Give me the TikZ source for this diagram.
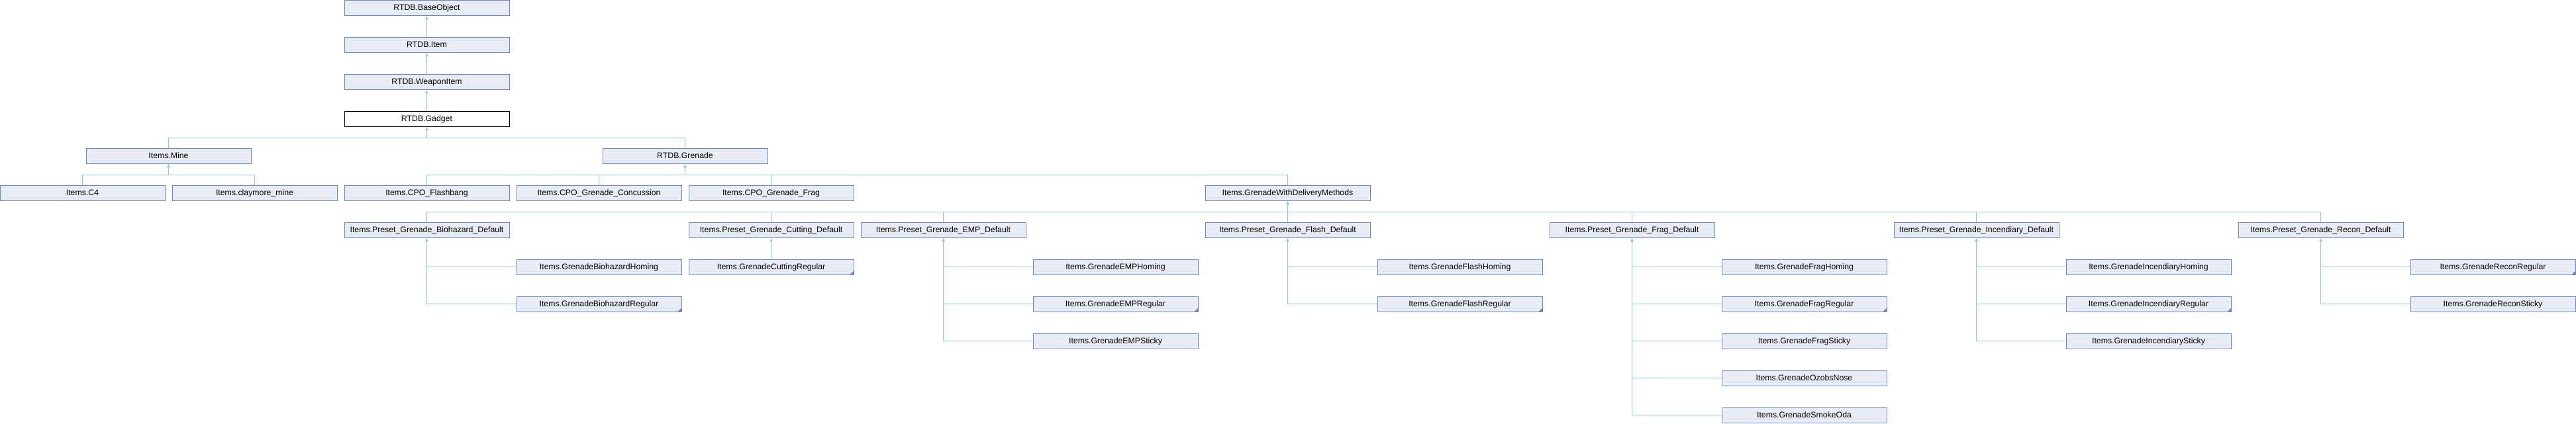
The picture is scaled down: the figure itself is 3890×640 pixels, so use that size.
\documentclass[tikz,border=0pt]{standalone}
\usepackage{fontspec}
\setmainfont{Liberation Sans}
\usetikzlibrary{arrows.meta}
\definecolor{edgec}{RGB}{140,198,232}
\definecolor{boxfill}{RGB}{232,236,245}
\definecolor{boxdraw}{RGB}{110,135,196}
\newcommand{\mybox}[5][]{\node[box,#1] (#2) at ({260*(#3)+124.5},{56*(#4)+11.75}) {#5};}
\begin{document}
\begin{tikzpicture}[x=1pt,y=-1pt,
  box/.style={draw=boxdraw,fill=boxfill,line width=1pt,minimum width=249pt,minimum height=23.5pt,
    inner sep=0pt,text height=8.8pt,text depth=1pt,font=\fontsize{12.3pt}{14pt}\selectfont},
  trunc/.style={path picture={\fill[boxdraw] (path picture bounding box.south east) -- ++(-6,0) -- ++(6,-6) -- cycle;}},
  conn/.style={draw=edgec,line width=1pt,{Latex[length=5pt,width=4.5pt]}-}]
\useasboundingbox (0,0) rectangle (3890,640);
% row 0-3
\mybox{base}{2}{0}{RTDB.BaseObject}
\mybox{item}{2}{1}{RTDB.Item}
\mybox{weapon}{2}{2}{RTDB.WeaponItem}
\mybox[fill=white,draw=black]{gadget}{2}{3}{RTDB.Gadget}
% row 4
\mybox{mine}{0.5}{4}{Items.Mine}
\mybox{grenade}{3.5}{4}{RTDB.Grenade}
% row 5
\mybox{c4}{0}{5}{Items.C4}
\mybox{clay}{1}{5}{Items.claymore\_mine}
\mybox{flashbang}{2}{5}{Items.CPO\_Flashbang}
\mybox{concussion}{3}{5}{Items.CPO\_Grenade\_Concussion}
\mybox{cpofrag}{4}{5}{Items.CPO\_Grenade\_Frag}
\mybox{gwdm}{7}{5}{Items.GrenadeWithDeliveryMethods}
% row 6
\mybox{pbio}{2}{6}{Items.Preset\_Grenade\_Biohazard\_Default}
\mybox{pcut}{4}{6}{Items.Preset\_Grenade\_Cutting\_Default}
\mybox{pemp}{5}{6}{Items.Preset\_Grenade\_EMP\_Default}
\mybox{pflash}{7}{6}{Items.Preset\_Grenade\_Flash\_Default}
\mybox{pfrag}{9}{6}{Items.Preset\_Grenade\_Frag\_Default}
\mybox{pinc}{11}{6}{Items.Preset\_Grenade\_Incendiary\_Default}
\mybox{precon}{13}{6}{Items.Preset\_Grenade\_Recon\_Default}
% row 7
\mybox{biohom}{3}{7}{Items.GrenadeBiohazardHoming}
\mybox[trunc]{cutreg}{4}{7}{Items.GrenadeCuttingRegular}
\mybox{emphom}{6}{7}{Items.GrenadeEMPHoming}
\mybox{flashhom}{8}{7}{Items.GrenadeFlashHoming}
\mybox{fraghom}{10}{7}{Items.GrenadeFragHoming}
\mybox{inchom}{12}{7}{Items.GrenadeIncendiaryHoming}
\mybox[trunc]{reconreg}{14}{7}{Items.GrenadeReconRegular}
% row 8
\mybox[trunc]{bioreg}{3}{8}{Items.GrenadeBiohazardRegular}
\mybox[trunc]{empreg}{6}{8}{Items.GrenadeEMPRegular}
\mybox[trunc]{flashreg}{8}{8}{Items.GrenadeFlashRegular}
\mybox[trunc]{fragreg}{10}{8}{Items.GrenadeFragRegular}
\mybox[trunc]{increg}{12}{8}{Items.GrenadeIncendiaryRegular}
\mybox{reconsticky}{14}{8}{Items.GrenadeReconSticky}
% row 9-11
\mybox{empsticky}{6}{9}{Items.GrenadeEMPSticky}
\mybox{fragsticky}{10}{9}{Items.GrenadeFragSticky}
\mybox{incsticky}{12}{9}{Items.GrenadeIncendiarySticky}
\mybox{ozobs}{10}{10}{Items.GrenadeOzobsNose}
\mybox{smoke}{10}{11}{Items.GrenadeSmokeOda}
% straight edges
\draw[conn] (base.south) -- (item.north);
\draw[conn] (item.south) -- (weapon.north);
\draw[conn] (weapon.south) -- (gadget.north);
\draw[conn] (pcut.south) -- (cutreg.north);
% bus edges
\foreach \c in {mine,grenade} \draw[conn] (gadget.south) -- ++(0,16.5) -| (\c.north);
\foreach \c in {c4,clay} \draw[conn] (mine.south) -- ++(0,16.5) -| (\c.north);
\foreach \c in {flashbang,concussion,cpofrag,gwdm} \draw[conn] (grenade.south) -- ++(0,16.5) -| (\c.north);
\foreach \c in {pbio,pcut,pemp,pflash,pfrag,pinc,precon} \draw[conn] (gwdm.south) -- ++(0,16.5) -| (\c.north);
% folded edges
\foreach \c in {biohom,bioreg} \draw[conn] (pbio.south) |- (\c.west);
\foreach \c in {emphom,empreg,empsticky} \draw[conn] (pemp.south) |- (\c.west);
\foreach \c in {flashhom,flashreg} \draw[conn] (pflash.south) |- (\c.west);
\foreach \c in {fraghom,fragreg,fragsticky,ozobs,smoke} \draw[conn] (pfrag.south) |- (\c.west);
\foreach \c in {inchom,increg,incsticky} \draw[conn] (pinc.south) |- (\c.west);
\foreach \c in {reconreg,reconsticky} \draw[conn] (precon.south) |- (\c.west);
\end{tikzpicture}
\end{document}
